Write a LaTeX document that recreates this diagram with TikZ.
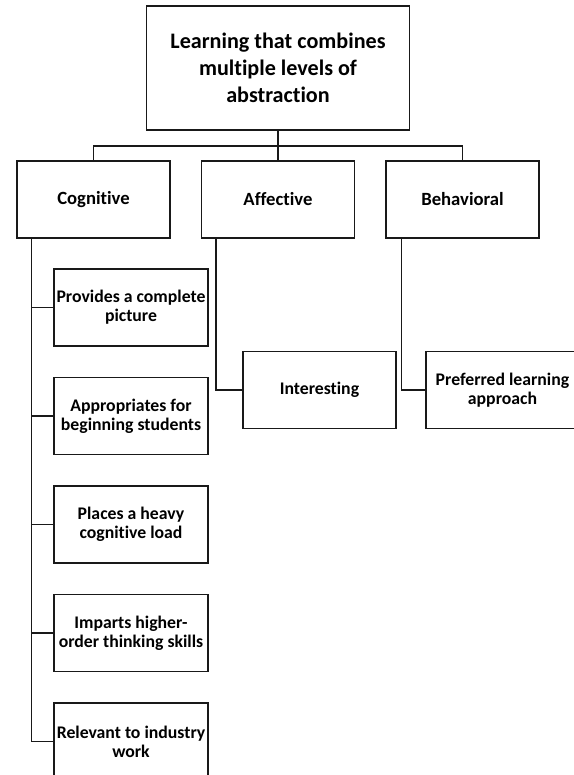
\documentclass[tikz,border=0pt]{standalone}
\usepackage{fontspec}
\setmainfont{Carlito}[Ligatures={NoCommon}]
\usetikzlibrary{positioning,calc}
\tikzset{
  basebox/.style={draw=black!90, line width=1.1pt, fill=white, align=center,
    inner sep=0pt, font=\bfseries\fontsize{13.3}{14.3}\selectfont},
  rootbox/.style={basebox, minimum width=197.25pt, minimum height=93pt,
    font=\bfseries\fontsize{16.6}{20.3}\selectfont},
  levelbox/.style={basebox, minimum width=114.75pt, minimum height=57.75pt},
  headbox/.style={levelbox, font=\bfseries\fontsize{14}{15}\selectfont},
  itembox/.style={basebox, minimum width=115.5pt, minimum height=57.75pt},
  link/.style={draw=black!90, line width=1.1pt}
}
\begin{document}
\begin{tikzpicture}[x=0.75pt,y=-0.75pt]
  \useasboundingbox (0,0) rectangle (574,775);
  \clip (0,0) rectangle (574,775);
  % top and first level
  \node[rootbox] (root) at (278,68) {Learning that combines\\multiple levels of\\abstraction};
  \node[headbox] (cog) at (93.5,199.5) {Cognitive};
  \node[headbox] (aff) at (278,199.5) {Affective};
  \node[headbox] (beh) at (462.5,199.5) {Behavioral};
  \coordinate (bus) at (0,146);
  \draw[link] (cog.north) -- (cog.north |- bus) -| (beh.north);
  \draw[link] (root.south) -- (aff.north);
  % cognitive items
  \node[itembox] (c1) at (131,307.5) {Provides a complete\\picture};
  \node[itembox] (c2) at (131,416) {Appropriates for\\beginning students};
  \node[itembox] (c3) at (131,524.5) {Places a heavy\\cognitive load};
  \node[itembox] (c4) at (131,633) {Imparts higher-\\order thinking skills};
  \node[itembox] (c5) at (131,741.5) {Relevant to industry\\work};
  \coordinate (cogspine) at ($(cog.south west)+(15,0)$);
  \draw[link] (cogspine) |- (c5.west);
  \foreach \i in {1,...,4}
    \draw[link] (cogspine |- c\i.west) -- (c\i.west);
  % affective and behavioral items
  \node[levelbox] (a1) at (319.5,390) {Interesting};
  \node[levelbox] (b1) at (502.5,390) {Preferred learning\\approach};
  \draw[link] ($(aff.south west)+(15,0)$) |- (a1.west);
  \draw[link] ($(beh.south west)+(16,0)$) |- (b1.west);
\end{tikzpicture}
\end{document}
